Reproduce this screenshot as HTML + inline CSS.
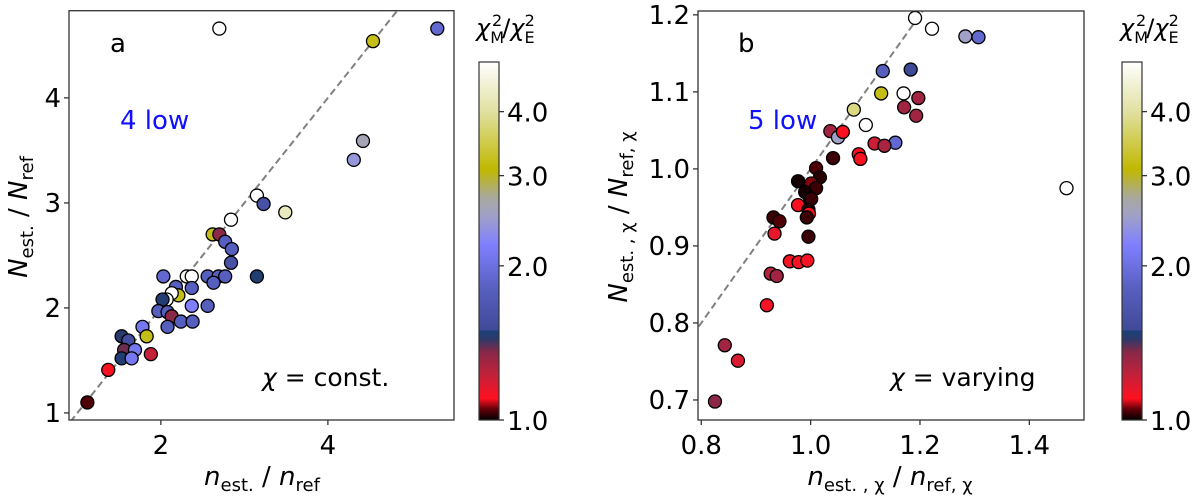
<!DOCTYPE html>
<html><head><meta charset="utf-8"><style>
html,body{margin:0;padding:0;background:#fff;width:1200px;height:502px;overflow:hidden;position:relative;}
svg{display:block;font-family:"DejaVu Sans","Liberation Sans",sans-serif;}
</style></head><body>
<svg id="fig" width="1200" height="502" viewBox="0 0 1200 502" xmlns="http://www.w3.org/2000/svg" style="position:absolute;left:0;top:0">
<defs>
<linearGradient id="cmap" x1="0" y1="1" x2="0" y2="0"></linearGradient>
<clipPath id="clipA"><rect x="69" y="10.7" width="385" height="409.3"/></clipPath>
<clipPath id="clipB"><rect x="698" y="11" width="386" height="409"/></clipPath>
</defs>
</svg>
<svg width="1200" height="502" style="position:absolute;left:0;top:0" xmlns="http://www.w3.org/2000/svg" font-family="DejaVu Sans, Liberation Sans, sans-serif">
<text x="110" y="52" font-size="26">a</text>
<text x="120" y="129" font-size="26" fill="#1010ff">4 low</text>
<text x="262" y="386" font-size="25"><tspan font-style="italic">χ</tspan> = const.</text>
<text x="262" y="485" font-size="26" text-anchor="middle"><tspan font-style="italic">n</tspan><tspan font-size="18" dy="6">est.</tspan><tspan dy="-6"> / </tspan><tspan font-style="italic">n</tspan><tspan font-size="18" dy="6">ref</tspan></text>
<text transform="translate(27,217) rotate(-90)" font-size="26" text-anchor="middle"><tspan font-style="italic">N</tspan><tspan font-size="18" dy="6">est.</tspan><tspan dy="-6"> / </tspan><tspan font-style="italic">N</tspan><tspan font-size="18" dy="6">ref</tspan></text>
<text x="476" y="36" font-size="24"><tspan font-style="italic">χ</tspan><tspan font-size="16" dy="7">M</tspan><tspan font-size="16" dx="-12" dy="-17">2</tspan><tspan dy="10">/</tspan><tspan font-style="italic">χ</tspan><tspan font-size="16" dy="7">E</tspan><tspan font-size="16" dx="-10" dy="-17">2</tspan></text>
<text x="738" y="52" font-size="26">b</text>
<text x="748" y="129" font-size="26" fill="#1010ff">5 low</text>
<text x="890" y="386" font-size="25"><tspan font-style="italic">χ</tspan> = varying</text>
<text x="890" y="485" font-size="26" text-anchor="middle"><tspan font-style="italic">n</tspan><tspan font-size="18" dy="6">est. , χ</tspan><tspan dy="-6"> / </tspan><tspan font-style="italic">n</tspan><tspan font-size="18" dy="6">ref, χ</tspan></text>
<text transform="translate(627,217) rotate(-90)" font-size="26" text-anchor="middle"><tspan font-style="italic">N</tspan><tspan font-size="18" dy="6">est. , χ</tspan><tspan dy="-6"> / </tspan><tspan font-style="italic">N</tspan><tspan font-size="18" dy="6">ref, χ</tspan></text>
<text x="1120" y="36" font-size="24"><tspan font-style="italic">χ</tspan><tspan font-size="16" dy="7">M</tspan><tspan font-size="16" dx="-12" dy="-17">2</tspan><tspan dy="10">/</tspan><tspan font-style="italic">χ</tspan><tspan font-size="16" dy="7">E</tspan><tspan font-size="16" dx="-10" dy="-17">2</tspan></text>
</svg>
<script>
// ---- data panel a ----
const xA=[2.70,5.31,4.54,4.31,4.42,3.15,3.23,3.49,2.84,2.62,2.70,2.77,2.85,2.84,2.03,2.31,2.37,2.56,2.69,2.77,2.63,3.15,2.37,2.18,2.21,2.13,2.07,2.02,2.37,2.56,1.97,2.08,2.13,2.24,2.38,2.08,1.78,1.83,1.53,1.61,1.56,1.69,1.53,1.65,1.88,1.37,1.12];
const yA=[4.66,4.66,4.54,3.41,3.59,3.07,2.99,2.91,2.84,2.70,2.70,2.63,2.56,2.43,2.30,2.30,2.30,2.30,2.30,2.30,2.24,2.30,2.19,2.20,2.12,2.14,2.08,2.08,2.02,2.02,1.97,1.96,1.92,1.87,1.87,1.82,1.82,1.73,1.73,1.69,1.60,1.60,1.52,1.52,1.56,1.41,1.10];
const cA=[5,1.9,3.2,2.4,2.6,5,1.6,4.3,5,3.2,1.35,1.8,1.8,1.6,1.9,4.8,5,1.8,1.8,1.8,1.8,1.47,1.8,1.8,3.2,5,5,1.47,2.2,1.8,1.8,1.8,1.35,1.8,1.8,1.8,2.1,3.2,1.45,1.55,1.38,2.1,1.47,2.1,1.22,1.1,1.04];
// ---- data panel b ----
const xB=[1.191,1.222,1.283,1.307,1.132,1.183,1.129,1.170,1.197,1.171,1.193,1.079,1.101,1.036,1.050,1.059,1.155,1.117,1.135,1.088,1.091,1.041,1.010,1.017,0.977,1.001,1.010,0.990,0.999,1.001,0.977,0.996,0.997,0.993,0.932,0.943,0.934,0.996,0.962,0.978,0.994,0.927,0.938,0.920,0.843,0.867,0.825,1.468];
const yB=[1.196,1.182,1.172,1.171,1.127,1.129,1.098,1.098,1.092,1.080,1.069,1.077,1.057,1.049,1.041,1.048,1.034,1.033,1.030,1.019,1.013,1.014,1.001,0.989,0.984,0.981,0.975,0.970,0.962,0.961,0.953,0.947,0.942,0.937,0.937,0.932,0.916,0.912,0.880,0.879,0.881,0.864,0.861,0.823,0.771,0.751,0.698,0.975];
const cB=[5,5,2.5,1.9,1.8,1.5,3.2,5,1.3,1.3,1.3,3.8,5,1.3,2.5,1.1,1.9,1.2,1.28,1.1,1.1,1.03,1.04,1.02,1.01,1.06,1.03,1.01,1.02,1.03,1.1,1.02,1.1,1.03,1.03,1.04,1.15,1.03,1.12,1.12,1.12,1.25,1.3,1.12,1.3,1.18,1.35,5];
// ticks
const xTicksA=[2,4], yTicksA=[1,2,3,4];
const xTicksB=[0.8,1.0,1.2,1.4], yTicksB=[0.7,0.8,0.9,1.0,1.1,1.2];
const cbTicks=[1.0,2.0,3.0,4.0];
const cMin=1, cMax=5;

const NS="http://www.w3.org/2000/svg";
const svg=document.getElementById('fig');
const stops=[[0,'#000000'],[0.03,'#600008'],[0.06,'#ff1020'],[0.12,'#c82038'],[0.19,'#882848'],[0.225,'#303868'],[0.248,'#1a4078'],[0.252,'#404a98'],[0.37,'#5860c0'],[0.49,'#8080ff'],[0.57,'#a0a0c8'],[0.62,'#a8a8a0'],[0.70,'#c0b800'],[0.86,'#e0e0a0'],[1,'#ffffff']];
const grad=document.getElementById('cmap');
stops.forEach(s=>{const st=document.createElementNS(NS,'stop');st.setAttribute('offset',s[0]);st.setAttribute('stop-color',s[1]);grad.appendChild(st);});
function hex(h){return [1,3,5].map(i=>parseInt(h.substr(i,2),16));}
function cfrac(c){return Math.max(0,Math.min(1,Math.log(c/cMin)/Math.log(cMax/cMin)));}
function cmap(c){const f=cfrac(c);for(let i=1;i<stops.length;i++){if(f<=stops[i][0]){const a=stops[i-1],b=stops[i];const t=(f-a[0])/((b[0]-a[0])||1);const A=hex(a[1]),B=hex(b[1]);return 'rgb('+A.map((v,k)=>Math.round(v+(B[k]-v)*t)).join(',')+')';}}return '#fff';}
function el(tag,attrs,parent){const e=document.createElementNS(NS,tag);for(const k in attrs)e.setAttribute(k,attrs[k]);(parent||svg).appendChild(e);return e;}

function panel(cfg){
  const sx=v=>cfg.X0+(v-cfg.xmin)/(cfg.xmax-cfg.xmin)*(cfg.X1-cfg.X0);
  const sy=v=>cfg.Y1-(v-cfg.ymin)/(cfg.ymax-cfg.ymin)*(cfg.Y1-cfg.Y0);
  const g=el('g',{});
  
  
  const lo=Math.max(cfg.xmin,cfg.ymin),hi=Math.min(cfg.xmax,cfg.ymax)+1;
  const ln=el('line',{x1:sx(lo-1),y1:sy(lo-1),x2:sx(hi),y2:sy(hi),stroke:'#808080','stroke-width':2,'stroke-dasharray':'7,4','clip-path':'url(#'+cfg.clip+')'},g);
  
  
  for(let i=0;i<cfg.xs.length;i++){
    const p=el('circle',{cx:sx(cfg.xs[i]),cy:sy(cfg.ys[i]),r:6.5,fill:cmap(cfg.cs[i]),stroke:'#000','stroke-width':1.3},g);
    
    
  }
  const fr=el('rect',{x:cfg.X0,y:cfg.Y0,width:cfg.X1-cfg.X0,height:cfg.Y1-cfg.Y0,fill:'none',stroke:'#333','stroke-width':1.3},g);
  
  
  cfg.xt.forEach(v=>{
    el('line',{x1:sx(v),x2:sx(v),y1:cfg.Y1,y2:cfg.Y1+5,stroke:'#333','stroke-width':1.3},g);
    const t=el('text',{x:sx(v),y:cfg.Y1+34,'text-anchor':'middle','font-size':26,fill:'#000'},g);
    t.textContent=cfg.xfmt(v);
    
    
  });
  cfg.yt.forEach(v=>{
    el('line',{x1:cfg.X0-5,x2:cfg.X0,y1:sy(v),y2:sy(v),stroke:'#333','stroke-width':1.3},g);
    const t=el('text',{x:cfg.X0-8,y:sy(v)+9,'text-anchor':'end','font-size':26,fill:'#000'},g);
    t.textContent=cfg.yfmt(v);
    
    
  });
  const cb=el('rect',{x:cfg.CB,y:62,width:20,height:358,fill:'url(#cmap)',stroke:'#333','stroke-width':1.2},g);
  
  
  cbTicks.forEach(v=>{
    const y=420-cfrac(v)*358;
    el('line',{x1:cfg.CB+20,x2:cfg.CB+25,y1:y,y2:y,stroke:'#333','stroke-width':1.3},g);
    const t=el('text',{x:cfg.CB+28,y:y+10,'font-size':26,fill:'#000'},g);
    t.textContent=v.toFixed(1);
    
    
  });
}
panel({name:'panel-a',X0:69,X1:454,Y0:10.7,Y1:420,xmin:0.9,xmax:5.51,ymin:0.933,ymax:4.83,xs:xA,ys:yA,cs:cA,xt:xTicksA,yt:yTicksA,xfmt:v=>String(v),yfmt:v=>String(v),CB:479,clip:'clipA'});
panel({name:'panel-b',X0:698,X1:1084,Y0:11,Y1:420,xmin:0.794,xmax:1.50,ymin:0.674,ymax:1.205,xs:xB,ys:yB,cs:cB,xt:xTicksB,yt:yTicksB,xfmt:v=>v.toFixed(1),yfmt:v=>v.toFixed(1),CB:1122,clip:'clipB'});
</script>
</body></html>
